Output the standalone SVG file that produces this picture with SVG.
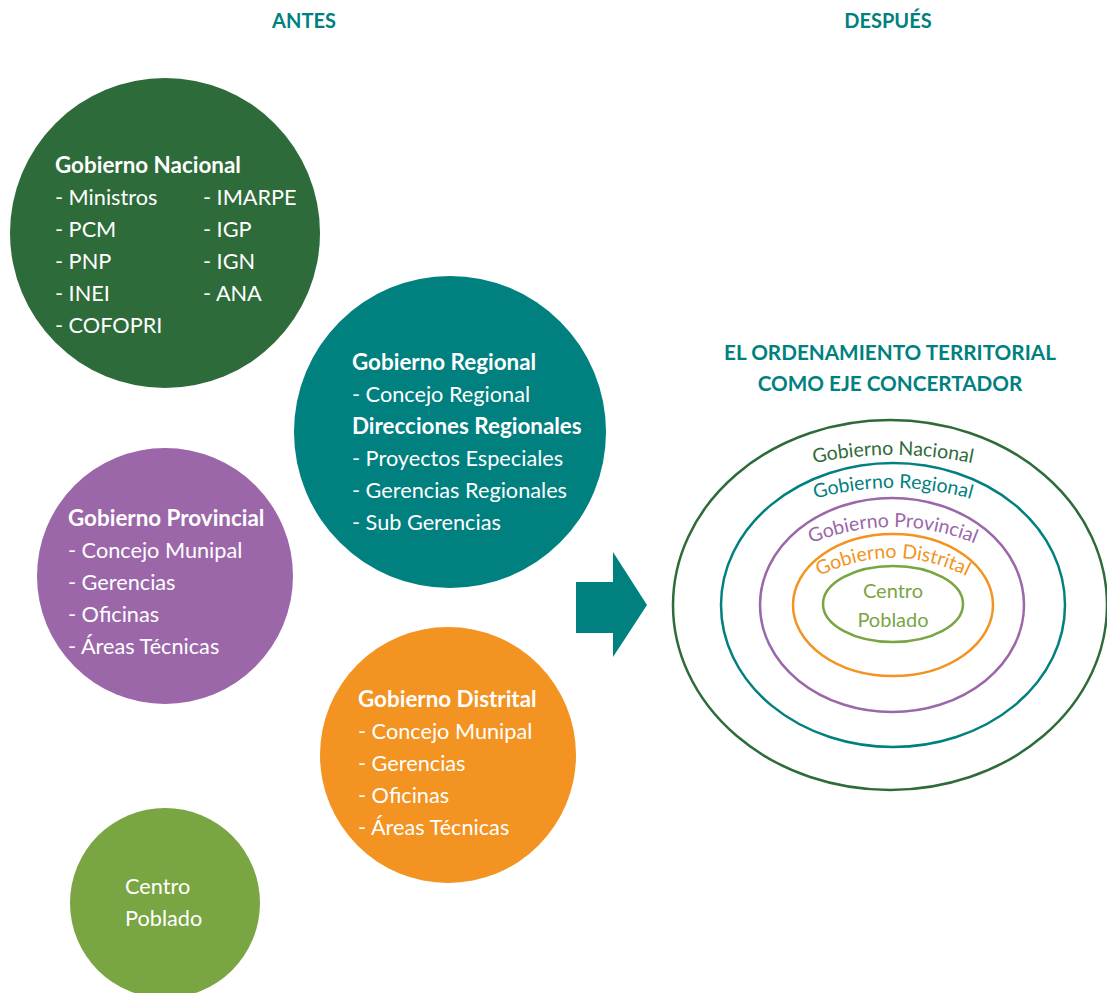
<svg xmlns="http://www.w3.org/2000/svg" width="1107" height="993" viewBox="0 0 1107 993">
<style>
text{font-family:Lato,"Noto Sans","Liberation Sans",sans-serif}
.w{fill:#ffffff;font-size:21.7px}
.b{font-weight:bold;font-size:22.4px}
.h{fill:#00807f;font-size:20px;font-weight:bold;text-anchor:middle}
.h2{font-size:20.7px}
.c{font-size:19.5px;text-anchor:middle}
.e{fill:none;stroke-width:2.5}
</style>
<defs>
<path id="pN" d="M 790,469 Q 893,441 996,469"/>
<path id="pR" d="M 790,507 Q 893,469 996,507"/>
<path id="pP" d="M 790,553 Q 893,501 996,553"/>
<path id="pD" d="M 800,587 Q 893,529 986,587"/>
</defs>
<rect width="1107" height="993" fill="#ffffff"/>
<text class="h" x="304" y="28">ANTES</text>
<text class="h" x="888" y="28">DESPUÉS</text>

<g id="nacional">
<circle cx="165" cy="233" r="155" fill="#2e6b3a"/>
<text class="w b" x="55" y="173">Gobierno Nacional</text>
<text class="w" x="55" y="205">- Ministros</text>
<text class="w" x="55" y="237">- PCM</text>
<text class="w" x="55" y="269">- PNP</text>
<text class="w" x="55" y="301">- INEI</text>
<text class="w" x="55" y="333">- COFOPRI</text>
<text class="w" x="203" y="205">- IMARPE</text>
<text class="w" x="203" y="237">- IGP</text>
<text class="w" x="203" y="269">- IGN</text>
<text class="w" x="203" y="301">- ANA</text>
</g>

<g id="regional">
<circle cx="450" cy="432" r="156" fill="#00807f"/>
<text class="w b" x="352" y="370">Gobierno Regional</text>
<text class="w" x="352" y="402">- Concejo Regional</text>
<text class="w b" x="352" y="434">Direcciones Regionales</text>
<text class="w" x="352" y="466">- Proyectos Especiales</text>
<text class="w" x="352" y="498">- Gerencias Regionales</text>
<text class="w" x="352" y="530">- Sub Gerencias</text>
</g>

<g id="provincial">
<circle cx="165" cy="576" r="128" fill="#9b67a9"/>
<text class="w b" x="68" y="526">Gobierno Provincial</text>
<text class="w" x="68" y="558">- Concejo Munipal</text>
<text class="w" x="68" y="590">- Gerencias</text>
<text class="w" x="68" y="622">- Oficinas</text>
<text class="w" x="68" y="654">- Áreas Técnicas</text>
</g>

<g id="distrital">
<circle cx="448" cy="755" r="128" fill="#f39321"/>
<text class="w b" x="358" y="707">Gobierno Distrital</text>
<text class="w" x="358" y="739">- Concejo Munipal</text>
<text class="w" x="358" y="771">- Gerencias</text>
<text class="w" x="358" y="803">- Oficinas</text>
<text class="w" x="358" y="835">- Áreas Técnicas</text>
</g>

<g id="centro">
<circle cx="165" cy="903" r="95" fill="#7aa543"/>
<text class="w" x="125" y="894">Centro</text>
<text class="w" x="125" y="926">Poblado</text>
</g>

<g id="connectors">
<path d="M 576,582 H 613 V 552 L 647,605 L 613,657 V 633 H 576 Z" fill="#00807f"/>
</g>

<g id="despues">
<text class="h h2" x="890" y="360">EL ORDENAMIENTO TERRITORIAL</text>
<text class="h h2" x="890" y="391">COMO EJE CONCERTADOR</text>
<ellipse class="e" cx="890" cy="605" rx="217" ry="185" stroke="#2e6b3a"/>
<ellipse class="e" cx="893" cy="605" rx="172" ry="142" stroke="#00807f"/>
<ellipse class="e" cx="892" cy="605" rx="132" ry="107" stroke="#9b67a9"/>
<ellipse class="e" cx="893" cy="605" rx="100" ry="71" stroke="#f39321"/>
<ellipse class="e" cx="893" cy="604" rx="70" ry="38" stroke="#7aa543"/>
<text class="c" fill="#2e6b3a"><textPath href="#pN" startOffset="50%">Gobierno Nacional</textPath></text>
<text class="c" fill="#00807f"><textPath href="#pR" startOffset="50%">Gobierno Regional</textPath></text>
<text class="c" fill="#9b67a9"><textPath href="#pP" startOffset="50%">Gobierno Provincial</textPath></text>
<text class="c" fill="#f39321"><textPath href="#pD" startOffset="50%">Gobierno Distrital</textPath></text>
<text class="c" fill="#7aa543" x="893" y="598" style="font-size:20px">Centro</text>
<text class="c" fill="#7aa543" x="893" y="627" style="font-size:20px">Poblado</text>
</g>
</svg>
